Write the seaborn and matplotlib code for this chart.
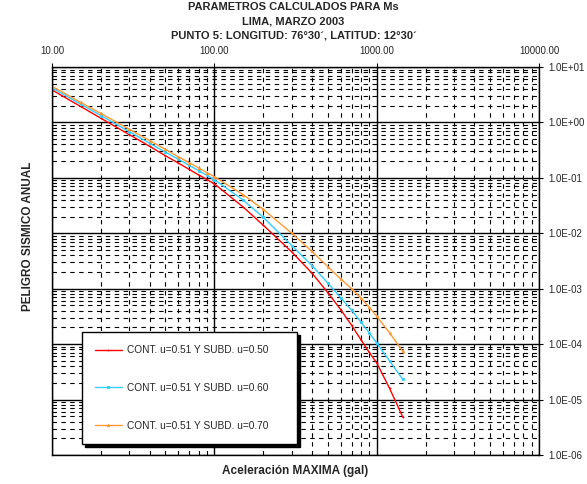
import numpy as np
import pandas as pd
import matplotlib
matplotlib.use("Agg")
import matplotlib.pyplot as plt
import matplotlib.ticker as mticker
import seaborn as sns

sns.set_style("white")
plt.rcParams['font.family'] = ['Liberation Sans', 'DejaVu Sans']

# aceleracion (gal)
acel = [10, 15, 20, 30, 40, 50, 60, 70, 80, 90, 100, 150, 200, 300, 400,
        500, 600, 700, 800, 900, 1000, 1200, 1450]

# peligro sismico anual
peligro_050 = [3.85, 1.94, 1.19, 0.60, 0.37, 0.25, 0.185, 0.142, 0.113, 0.093,
               0.078, 0.030, 0.014, 4.6e-3, 1.9e-3, 8.5e-4, 4.2e-4, 2.2e-4,
               1.2e-4, 7.1e-5, 4.6e-5, 1.6e-5, 4.8e-6]
peligro_060 = [4.2, 2.14, 1.33, 0.68, 0.42, 0.29, 0.217, 0.168, 0.135, 0.111,
               0.093, 0.040, 0.0195, 6.0e-3, 2.6e-3, 1.26e-3, 6.9e-4, 4.1e-4,
               2.5e-4, 1.6e-4, 1.05e-4, 5.0e-5, 2.3e-5]
peligro_070 = [4.5, 2.3, 1.45, 0.75, 0.47, 0.326, 0.24, 0.188, 0.151, 0.124,
               0.105, 0.050, 0.027, 0.010, 4.7e-3, 2.5e-3, 1.5e-3, 1.0e-3,
               6.8e-4, 4.6e-4, 3.2e-4, 1.6e-4, 7.4e-5]

etiquetas = ["CONT. u=0.51 Y SUBD. u=0.50",
             "CONT. u=0.51 Y SUBD. u=0.60",
             "CONT. u=0.51 Y SUBD. u=0.70"]
colores = ["#ff0000", "#33ccff", "#ff9933"]
marcas = ["+", "s", "^"]

fig = plt.figure(figsize=(5.87, 4.84), dpi=100)
ax = fig.add_axes([0.0886, 0.060, 0.8296, 0.8016])

for serie, lab, col, mk in zip([peligro_050, peligro_060, peligro_070],
                               etiquetas, colores, marcas):
    df = pd.DataFrame({"acel": acel, "peligro": serie})
    sns.lineplot(data=df, x="acel", y="peligro", ax=ax, color=col, lw=1.0,
                 marker=mk, markersize=1.8, markeredgewidth=0.6,
                 markeredgecolor=col, label=lab)

ax.set_xscale("log")
ax.set_yscale("log")
ax.set_xlim(10, 10000)
ax.set_ylim(1e-6, 10)

ax.xaxis.tick_top()
ax.yaxis.tick_right()
ax.xaxis.set_major_locator(mticker.LogLocator(base=10, numticks=10))
ax.yaxis.set_major_locator(mticker.LogLocator(base=10, numticks=20))
ax.xaxis.set_minor_locator(mticker.LogLocator(base=10, subs=np.arange(2, 10), numticks=20))
ax.yaxis.set_minor_locator(mticker.LogLocator(base=10, subs=np.arange(2, 10), numticks=20))
ax.xaxis.set_major_formatter(mticker.FuncFormatter(lambda v, p: f"{v:.2f}"))
ax.yaxis.set_major_formatter(mticker.FuncFormatter(
    lambda v, p: "1.0E{:+03d}".format(int(round(np.log10(v))))))
ax.xaxis.set_minor_formatter(mticker.NullFormatter())
ax.yaxis.set_minor_formatter(mticker.NullFormatter())
ax.xaxis.get_offset_text().set_visible(False)
ax.yaxis.get_offset_text().set_visible(False)
ax.tick_params(which="major", direction="out", length=3, width=0.8,
               labelsize=7, color="black")
ax.tick_params(axis="x", pad=5)
ax.tick_params(axis="y", pad=4)
ax.tick_params(which="minor", length=0)

ax.grid(which="major", color="black", lw=1.0, ls="-")
ax.grid(which="minor", color="black", lw=0.8, ls=(0, (4, 4)))
ax.set_axisbelow(True)
for s in ax.spines.values():
    s.set_color("black")
    s.set_linewidth(1.0)

ax.xaxis.set_label_position("bottom")
ax.yaxis.set_label_position("left")
ax.set_xlabel("Aceleración MAXIMA (gal)", fontsize=8.5, fontweight="bold",
              labelpad=7)
ax.set_ylabel("PELIGRO SISMICO ANUAL", fontsize=8.5, fontweight="bold")
ax.yaxis.set_label_coords(-0.038, 0.564)

fig.text(0.50, 0.985, "PARAMETROS CALCULADOS PARA Ms", ha="center",
         va="center", fontsize=8, fontweight="bold")
fig.text(0.50, 0.956, "LIMA, MARZO 2003", ha="center", va="center",
         fontsize=8, fontweight="bold")
fig.text(0.50, 0.927, "PUNTO 5: LONGITUD: 76°30´, LATITUD: 12°30´",
         ha="center", va="center", fontsize=8, fontweight="bold")

leg = ax.legend(loc="lower left", bbox_to_anchor=(0.0616, 0.028, 0.4415, 0.307),
                mode="expand", borderaxespad=0, fontsize=7.3, frameon=True,
                fancybox=False, shadow={"color": "black", "alpha": 1},
                borderpad=1.3, labelspacing=2.75, handlelength=2.6,
                handletextpad=0.5)
leg.get_frame().set_edgecolor("black")
leg.get_frame().set_linewidth(1.0)
leg.get_frame().set_alpha(1)

fig.savefig("out.png", dpi=100)
